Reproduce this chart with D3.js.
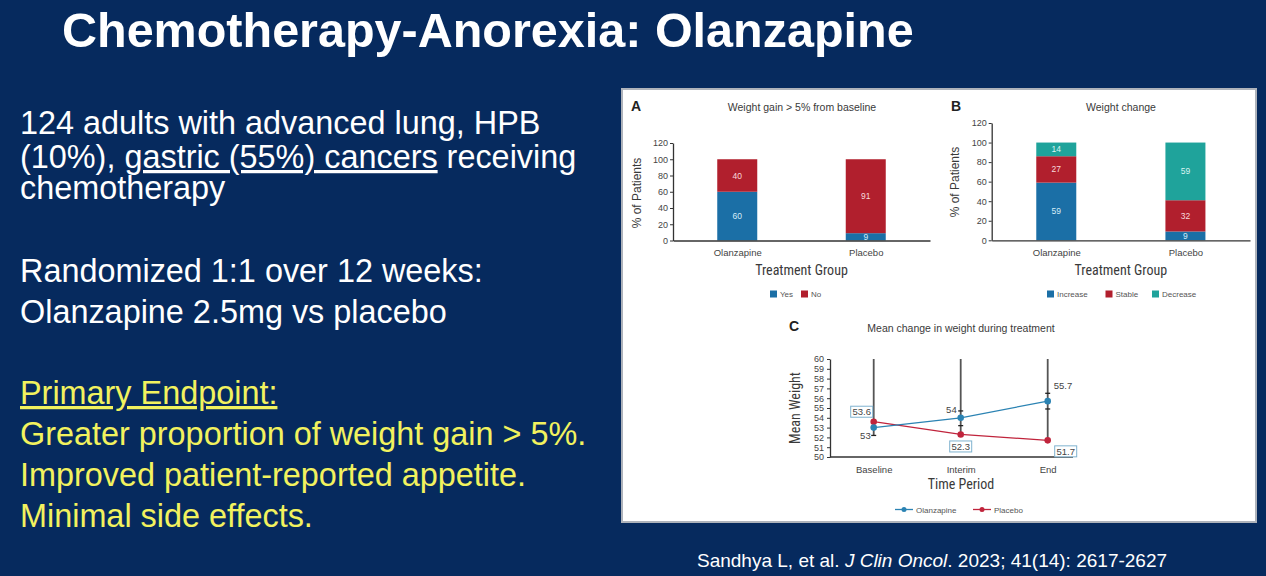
<!DOCTYPE html>
<html><head><meta charset="utf-8">
<script src="https://cdn.jsdelivr.net/npm/d3@7"></script>
<style>body{margin:0;background:#062a5e;} svg{display:block;}</style>
</head><body>
<svg id="c" width="1266" height="576"></svg>
<script>
// ---------- data ----------
const groups = ["Olanzapine", "Placebo"];
const gainYes = [60, 9];
const gainNo = [40, 91];
const changeIncrease = [59, 9];
const changeStable = [27, 32];
const changeDecrease = [14, 59];
const pctTicks = [0, 20, 40, 60, 80, 100, 120];
const periods = ["Baseline", "Interim", "End"];
const olzWeight = [53, 54, 55.7];
const plcWeight = [53.6, 52.3, 51.7];
const errTop = [60, 60, 60];
const errBottom = [52.2, 52.3, 51.7];
const olzCapLow = [52.2, 53.2, 54.9];
const olzCapHigh = [null, 54.7, 56.5];
const weightTicks = [50, 51, 52, 53, 54, 55, 56, 57, 58, 59, 60];

// ---------- style ----------
const BG = "#062a5e";
const BLUE = "#1b6fa6", RED = "#b11f2d", TEAL = "#1fa39b";
const LBLUE = "#2b83b3", LRED = "#c0243c";
const INK = "#3a3a3a";
const SANS = "'Liberation Sans', Arial, sans-serif";
const NARROW = "'Liberation Sans Narrow', 'Roboto Condensed', 'Liberation Sans', sans-serif";

const svg = d3.select("#c");
svg.append("rect").attr("width", 1266).attr("height", 576).attr("fill", BG);

// title
svg.append("text").attr("x", 62).attr("y", 47)
  .attr("font-family", SANS).attr("font-weight", "bold").attr("font-size", 48.5)
  .attr("fill", "#fff").text("Chemotherapy-Anorexia: Olanzapine");

// left text
const lt = svg.append("g").attr("font-family", SANS).attr("font-size", 32.4);
lt.append("text").attr("x", 20).attr("y", 134).attr("fill", "#fff").text("124 adults with advanced lung, HPB");
const l2 = lt.append("text").attr("x", 20).attr("y", 168).attr("fill", "#fff").style("white-space", "pre");
l2.append("tspan").text("(10%), ");
l2.append("tspan").attr("text-decoration", "underline").text("gastric (55%) cancers");
l2.append("tspan").text(" receiving");
lt.append("text").attr("x", 20).attr("y", 199).attr("fill", "#fff").text("chemotherapy");
lt.append("text").attr("x", 20).attr("y", 282).attr("fill", "#fff").text("Randomized 1:1 over 12 weeks:");
lt.append("text").attr("x", 20).attr("y", 323).attr("fill", "#fff").text("Olanzapine 2.5mg vs placebo");
const YEL = "#f2f25e";
lt.append("text").attr("x", 20).attr("y", 404).attr("fill", YEL).attr("text-decoration", "underline").text("Primary Endpoint:");
lt.append("text").attr("x", 20).attr("y", 445).attr("fill", YEL).text("Greater proportion of weight gain > 5%.");
lt.append("text").attr("x", 20).attr("y", 486).attr("fill", YEL).text("Improved patient-reported appetite.");
lt.append("text").attr("x", 20).attr("y", 527).attr("fill", YEL).text("Minimal side effects.");

// citation
const cit = svg.append("text").attr("x", 697).attr("y", 567).attr("font-family", SANS)
  .attr("font-size", 19).attr("fill", "#fff").style("white-space", "pre");
cit.append("tspan").text("Sandhya L, et al. ");
cit.append("tspan").attr("font-style", "italic").text("J Clin Oncol");
cit.append("tspan").text(". 2023; 41(14): 2617-2627");

// panel
svg.append("rect").attr("x", 622).attr("y", 89).attr("width", 634).attr("height", 433)
  .attr("fill", "#fff").attr("stroke", "#aeb3bb").attr("stroke-width", 2);

function styleAxis(g, size) {
  g.selectAll("text").attr("font-family", SANS).attr("font-size", size).attr("fill", "#444");
  g.selectAll("line").attr("stroke", "#333");
  g.select(".domain").attr("stroke", "#333").attr("stroke-width", 1.3);
}

function stackedPanel(opt) {
  const g = svg.append("g");
  const x = d3.scalePoint(groups, opt.xr).padding(0.5);
  const y = d3.scaleLinear([0, 120], opt.yr);
  const rows = groups.map((grp, i) => {
    const r = { group: grp };
    opt.series.forEach(s => r[s.key] = s.values[i]);
    return r;
  });
  const stacked = d3.stack().keys(opt.series.map(s => s.key))(rows);
  const bw = 40;
  stacked.forEach((layer, li) => {
    const s = opt.series[li];
    layer.forEach(d => {
      g.append("rect").attr("x", x(d.data.group) - bw / 2).attr("y", y(d[1]))
        .attr("width", bw).attr("height", y(d[0]) - y(d[1])).attr("fill", s.color);
      g.append("text").attr("x", x(d.data.group)).attr("y", y((d[0] + d[1]) / 2) + 3)
        .attr("text-anchor", "middle").attr("font-family", SANS).attr("font-size", 8.5)
        .attr("fill", s.labelColor).text(d[1] - d[0]);
    });
  });
  const ya = g.append("g").attr("transform", `translate(${opt.xr[0]},0)`)
    .call(d3.axisLeft(y).tickValues(pctTicks).tickSize(3).tickSizeOuter(0).tickPadding(2));
  styleAxis(ya, 9);
  const xa = g.append("g").attr("transform", `translate(0,${opt.yr[0]})`)
    .call(d3.axisBottom(x).tickSize(0).tickSizeOuter(0).tickPadding(9));
  styleAxis(xa, 9.5);
  g.append("text").attr("x", opt.letterX).attr("y", 111).attr("font-family", SANS)
    .attr("font-weight", "bold").attr("font-size", 14).attr("fill", "#222").text(opt.letter);
  g.append("text").attr("x", opt.titleX).attr("y", 110.5).attr("text-anchor", "middle")
    .attr("font-family", SANS).attr("font-size", 10.5).attr("fill", INK).text(opt.title);
  g.append("text").attr("transform", `translate(${opt.ylabX},${opt.ylabY}) rotate(-90)`)
    .attr("text-anchor", "middle").attr("font-family", SANS).attr("font-size", 12)
    .attr("fill", INK).text("% of Patients");
  const midX = (x(groups[0]) + x(groups[1])) / 2;
  g.append("text").attr("x", midX).attr("y", 274.5).attr("text-anchor", "middle")
    .attr("font-family", NARROW).attr("font-size", 14).attr("fill", INK).text("Treatment Group");
  opt.series.forEach(s => {
    g.append("rect").attr("x", s.lx).attr("y", 290.5).attr("width", 7).attr("height", 7).attr("fill", s.color);
    g.append("text").attr("x", s.lx + 10).attr("y", 297).attr("font-family", SANS)
      .attr("font-size", 8).attr("fill", "#555").text(s.key);
  });
}

stackedPanel({
  xr: [673, 930], yr: [240.5, 143], letter: "A", letterX: 631, title: "Weight gain > 5% from baseline", titleX: 802,
  ylabX: 641, ylabY: 193,
  series: [
    { key: "Yes", values: gainYes, color: BLUE, labelColor: "#d6ecf7", lx: 770 },
    { key: "No", values: gainNo, color: RED, labelColor: "#f7d9dc", lx: 801 }
  ]
});
stackedPanel({
  xr: [991.7, 1250], yr: [240.3, 123], letter: "B", letterX: 951, title: "Weight change", titleX: 1121,
  ylabX: 959, ylabY: 182,
  series: [
    { key: "Increase", values: changeIncrease, color: BLUE, labelColor: "#d6ecf7", lx: 1047 },
    { key: "Stable", values: changeStable, color: RED, labelColor: "#f7d9dc", lx: 1105.5 },
    { key: "Decrease", values: changeDecrease, color: TEAL, labelColor: "#d9f3f1", lx: 1152 }
  ]
});

// ---------- panel C ----------
const gc = svg.append("g");
const xC = d3.scalePoint(periods, [873.7, 1047.7]);
const yC = d3.scaleLinear([50, 60], [457, 359]);
const axX0 = 830, axX1 = 1073;
const yax = gc.append("g").attr("transform", `translate(${axX0},0)`)
  .call(d3.axisLeft(yC).tickValues(weightTicks).tickSize(3).tickSizeOuter(0).tickPadding(3));
styleAxis(yax, 9);
gc.append("line").attr("x1", axX0).attr("x2", axX1).attr("y1", yC(50)).attr("y2", yC(50))
  .attr("stroke", "#333").attr("stroke-width", 1.3);
const xax = gc.append("g").attr("transform", `translate(0,${yC(50)})`)
  .call(d3.axisBottom(xC).tickSize(0).tickPadding(9));
xax.select(".domain").remove();
styleAxis(xax, 9.5);

periods.forEach((p, i) => {
  gc.append("line").attr("x1", xC(p)).attr("x2", xC(p)).attr("y1", yC(errTop[i])).attr("y2", yC(errBottom[i]))
    .attr("stroke", "#555").attr("stroke-width", 1.8);
  [olzCapLow[i], olzCapHigh[i]].forEach(v => {
    if (v == null) return;
    gc.append("line").attr("x1", xC(p) - 2.5).attr("x2", xC(p) + 2.5).attr("y1", yC(v)).attr("y2", yC(v))
      .attr("stroke", "#222").attr("stroke-width", 1.3);
  });
});

const line = d3.line().x((d, i) => xC(periods[i])).y(d => yC(d));
gc.append("path").datum(plcWeight).attr("d", line).attr("fill", "none").attr("stroke", LRED).attr("stroke-width", 1.3);
gc.append("path").datum(olzWeight).attr("d", line).attr("fill", "none").attr("stroke", LBLUE).attr("stroke-width", 1.3);
plcWeight.forEach((v, i) => gc.append("circle").attr("cx", xC(periods[i])).attr("cy", yC(v)).attr("r", 3.3).attr("fill", LRED));
olzWeight.forEach((v, i) => gc.append("circle").attr("cx", xC(periods[i])).attr("cy", yC(v)).attr("r", 3.3).attr("fill", LBLUE));

const olzOff = [[-3, 11, "end"], [-4, -5, "end"], [6, -12, "start"]];
olzWeight.forEach((v, i) => {
  const o = olzOff[i];
  gc.append("text").attr("x", xC(periods[i]) + o[0]).attr("y", yC(v) + o[1]).attr("text-anchor", o[2])
    .attr("font-family", SANS).attr("font-size", 9.5).attr("fill", "#444").text(v);
});
const plcOff = [[-12, -10], [0, 12], [18, 11]];
plcWeight.forEach((v, i) => {
  const cx = xC(periods[i]) + plcOff[i][0], cy = yC(v) + plcOff[i][1];
  gc.append("rect").attr("x", cx - 11).attr("y", cy - 5.5).attr("width", 22).attr("height", 11)
    .attr("fill", "#fff").attr("stroke", "#7fb2cf").attr("stroke-width", 1);
  gc.append("text").attr("x", cx).attr("y", cy + 3.3).attr("text-anchor", "middle")
    .attr("font-family", SANS).attr("font-size", 9.5).attr("fill", "#444").text(v);
});

gc.append("text").attr("x", 789).attr("y", 331).attr("font-family", SANS).attr("font-weight", "bold")
  .attr("font-size", 14).attr("fill", "#222").text("C");
gc.append("text").attr("x", 961).attr("y", 331.5).attr("text-anchor", "middle").attr("font-family", SANS)
  .attr("font-size", 10.5).attr("fill", INK).text("Mean change in weight during treatment");
gc.append("text").attr("transform", "translate(800,408) rotate(-90)").attr("text-anchor", "middle")
  .attr("font-family", NARROW).attr("font-size", 14).attr("fill", INK).text("Mean Weight");
gc.append("text").attr("x", 961).attr("y", 489).attr("text-anchor", "middle").attr("font-family", NARROW)
  .attr("font-size", 14).attr("fill", INK).text("Time Period");

[["Olanzapine", LBLUE, 895], ["Placebo", LRED, 973]].forEach(([name, col, lx]) => {
  gc.append("line").attr("x1", lx).attr("x2", lx + 18).attr("y1", 509.5).attr("y2", 509.5).attr("stroke", col).attr("stroke-width", 1.3);
  gc.append("circle").attr("cx", lx + 9).attr("cy", 509.5).attr("r", 2.5).attr("fill", col);
  gc.append("text").attr("x", lx + 21).attr("y", 512.5).attr("font-family", SANS).attr("font-size", 8)
    .attr("fill", "#555").text(name);
});
</script>
</body></html>
